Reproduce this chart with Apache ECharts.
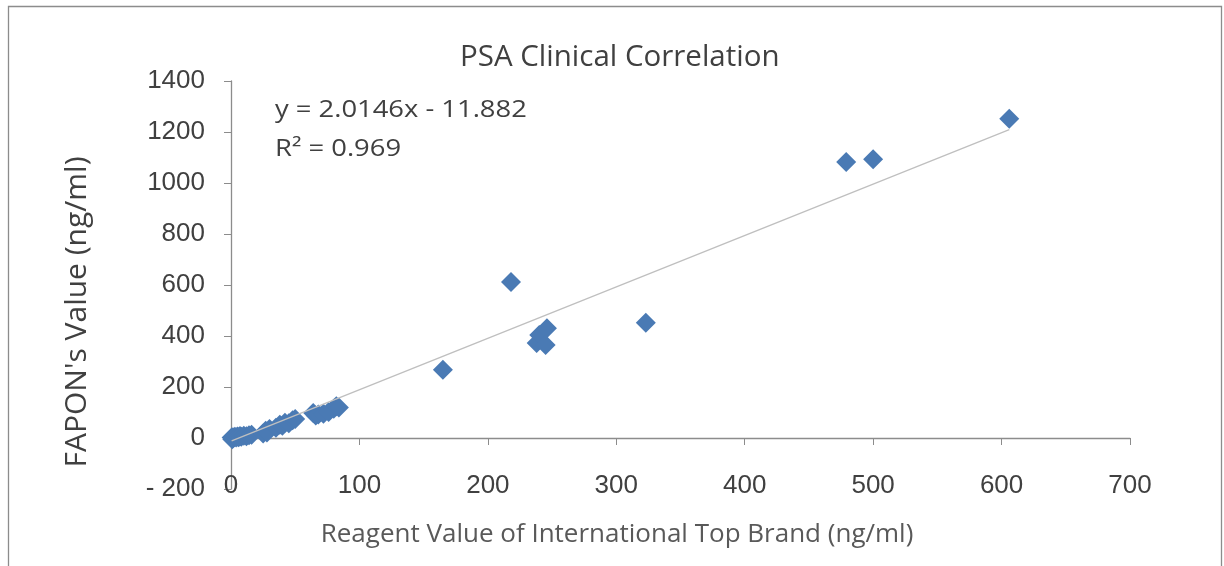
<!DOCTYPE html>
<html>
<head>
<meta charset="utf-8">
<script src="https://cdn.jsdelivr.net/npm/echarts@6/dist/echarts.min.js"></script>
<style>html,body{margin:0;padding:0;background:#fff}#c{width:1224px;height:566px}</style>
</head>
<body>
<div id="c"></div>
<script>
// Data
const referenceValues = [0.5,1,1.5,2,3,4,5,6,7,8,10,12,14,16,25,27,28,30,35,38,40,42,45,48,50,64,66,68,72,76,80,82,84,165,218,238,240,245,246,323,479,500,606];
const faponValues    = [2,-5,3,1,5,2,6,3,8,5,9,7,11,13,18,28,22,35,40,52,48,60,58,70,75,98,88,92,95,102,115,125,120,268,612,373,404,365,430,452,1082,1093,1252];
const xTicks = [0,100,200,300,400,500,600,700];
const yTicks = [-200,0,200,400,600,800,1000,1200,1400];
const trendSlope = 2.0146;
const trendIntercept = -11.882;
const trendR2 = 0.969;
const titleText = 'PSA Clinical Correlation';
const xTitle = 'Reagent Value of International Top Brand (ng/ml)';
const yTitle = "FAPON's Value (ng/ml)";

const points = referenceValues.map((x, i) => [x, faponValues[i]]);
const xMinData = Math.min(...referenceValues), xMaxData = Math.max(...referenceValues);
const trend = [[xMinData, trendSlope * xMinData + trendIntercept], [xMaxData, trendSlope * xMaxData + trendIntercept]];

const chart = echarts.init(document.getElementById('c'));
const axisColor = '#8c8c8c';
const textColor = '#404040';
chart.setOption({
  animation: false,
  backgroundColor: '#fff',
  title: {
    text: titleText, left: 455, top: 38,
    textStyle: {fontFamily: 'Open Sans', fontSize: 29.5, fontWeight: 'normal', color: textColor}
  },
  grid: {left: 231, right: 94, top: 81, bottom: 77, containLabel: false},
  xAxis: [
    {type: 'value', min: xTicks[0], max: xTicks[xTicks.length-1], interval: 100,
     axisLine: {onZero: true, lineStyle: {color: axisColor, width: 1.3}},
     axisTick: {show: true, length: 7, lineStyle: {color: axisColor}},
     axisLabel: {show: false}, splitLine: {show: false}},
    {type: 'value', min: xTicks[0], max: xTicks[xTicks.length-1], interval: 100, position: 'bottom',
     axisLine: {show: false, onZero: false}, axisTick: {show: false}, splitLine: {show: false},
     axisLabel: {show: true, margin: -3, fontFamily: 'Liberation Sans', fontSize: 26, color: textColor, verticalAlign: 'middle'}}
  ],
  yAxis: {
    type: 'value', min: yTicks[0], max: yTicks[yTicks.length-1], interval: 200,
    axisLine: {show: true, onZero: false, lineStyle: {color: axisColor, width: 1.3}},
    axisTick: {show: true, length: 7, lineStyle: {color: axisColor}},
    splitLine: {show: false},
    axisLabel: {margin: 26, fontFamily: 'Liberation Sans', fontSize: 26, color: textColor,
      formatter: v => v < 0 ? '- ' + Math.abs(v) : String(v)}
  },
  series: [
    {type: 'line', data: trend, xAxisIndex: 0, showSymbol: false, symbol: 'none',
     lineStyle: {color: '#bfbfbf', width: 1.3}, z: 3, silent: true},
    {type: 'scatter', data: points, xAxisIndex: 0, symbol: 'diamond', symbolSize: 20,
     itemStyle: {color: '#4a7ab4', opacity: 1}, z: 2}
  ],
  graphic: [
    {type: 'rect', shape: {x: 8.5, y: 6.5, width: 1213, height: 620}, style: {fill: 'none', stroke: '#8c8c8c', lineWidth: 1.3}, z: -1, silent: true},
    {type: 'text', x: 617, y: 535, scaleX: 1.04, style: {text: xTitle, font: '25px "Open Sans"', fill: '#595959', align: 'center', verticalAlign: 'middle'}},
    {type: 'text', x: 77, y: 312, rotation: Math.PI/2, style: {text: yTitle, font: '30px "Open Sans"', fill: textColor, align: 'center', verticalAlign: 'middle'}},
    {type: 'text', x: 275, y: 110, scaleX: 1.19, style: {text: 'y = ' + trendSlope + 'x - ' + Math.abs(trendIntercept), font: '23px "Open Sans"', fill: textColor, verticalAlign: 'middle'}},
    {type: 'text', x: 275, y: 149, scaleX: 1.19, style: {text: 'R² = ' + trendR2, font: '23px "Open Sans"', fill: textColor, verticalAlign: 'middle'}}
  ]
});
</script>
</body>
</html>
